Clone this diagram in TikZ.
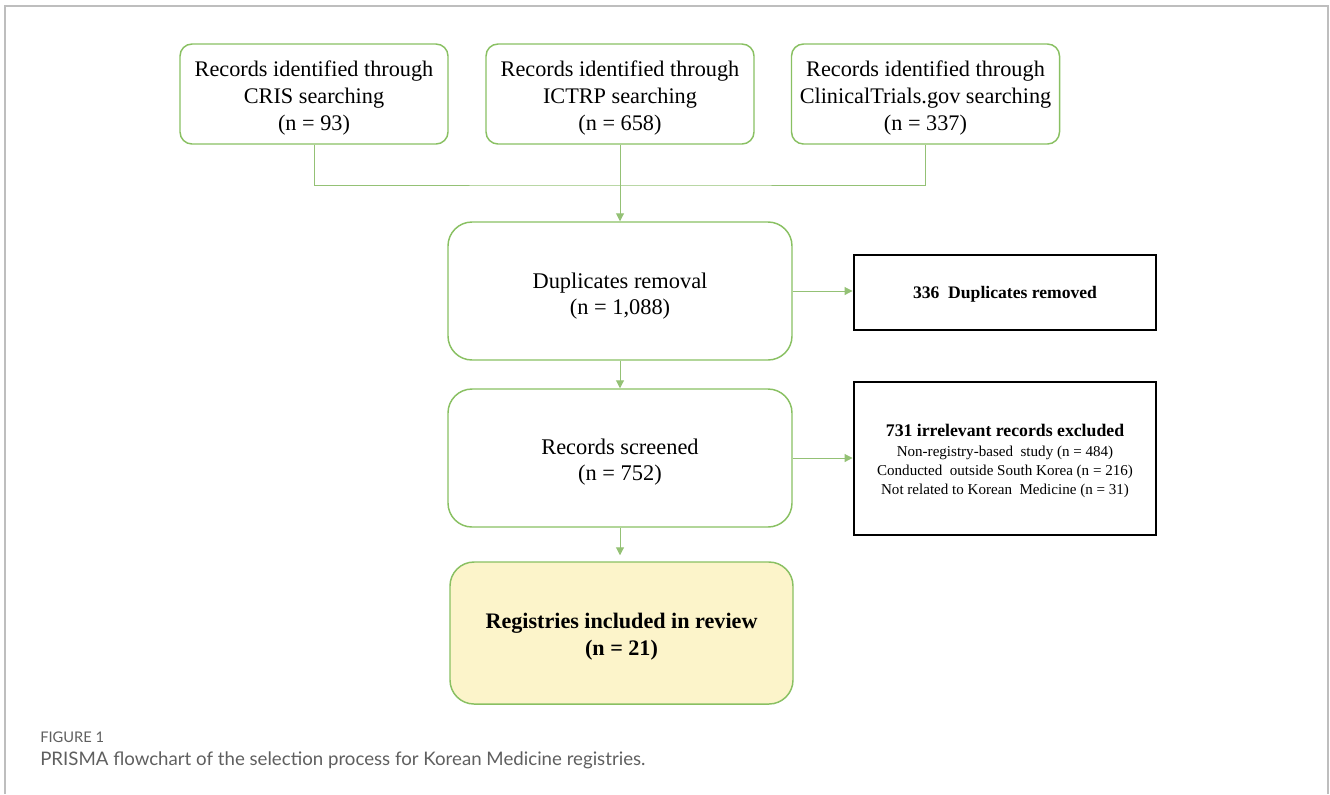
\documentclass[tikz,border=0pt]{standalone}
\usepackage{fontspec}
\setmainfont{Liberation Serif}
\newfontfamily\capfont{Lato}
\usetikzlibrary{arrows.meta}
\definecolor{boxgreen}{RGB}{137,192,98}
\definecolor{arrgreen}{RGB}{112,173,71}
\definecolor{incfill}{RGB}{252,244,202}
\definecolor{framegray}{RGB}{190,190,190}
\definecolor{capgray}{RGB}{95,95,95}
\tikzset{
  srcbox/.style={draw=boxgreen, line width=1.1pt, rounded corners=9pt,
    minimum width=201pt, minimum height=75pt, inner sep=0pt},
  midbox/.style={draw=boxgreen, line width=1.1pt, rounded corners=18pt,
    minimum width=258pt, minimum height=103.5pt, inner sep=0pt},
  incbox/.style={midbox, fill=incfill, minimum width=257.25pt, minimum height=106.5pt},
  exbox/.style={draw=black, line width=2.2pt, minimum width=226.5pt, inner sep=0pt},
  srctxt/.style={align=center, inner sep=0pt, font=\fontsize{16.7}{19.9}\selectfont},
  midtxt/.style={align=center, inner sep=0pt, font=\fontsize{16.8}{19.6}\selectfont},
  inctxt/.style={align=center, inner sep=0pt, font=\fontsize{16.6}{20.2}\selectfont\bfseries},
  extxt/.style={align=center, inner sep=0pt, font=\fontsize{11.3}{14.3}\selectfont},
  conn/.style={draw=arrgreen!75, line width=0.75pt},
  arr/.style={conn, -{Triangle[length=6pt,width=6pt]}},
}
\begin{document}
\begin{tikzpicture}[x=0.75pt,y=-0.75pt]
\useasboundingbox (0,0) rectangle (1330,794);
% outer frame
\draw[framegray, line width=0.9pt] (5,794) -- (5,6) -- (1328,6) -- (1328,794);
% source boxes
\node[srcbox] (cris) at (314,94) {};
\node[srctxt] (crist) at (314,98) {Records identified through\\CRIS searching\\(n = 93)};
\node[srcbox] (ictrp) at (620,94) {};
\node[srctxt] (ictrpt) at (620,98) {Records identified through\\ICTRP searching\\(n = 658)};
\node[srcbox] (ct) at (925.5,94) {};
\node[srctxt] (ctt) at (925.5,98) {Records identified through\\ClinicalTrials.gov searching\\(n = 337)};
% main flow
\node[midbox] (dup) at (620,291) {};
\node[midtxt] (dupt) at (620,296) {Duplicates removal\\(n = 1,088)};
\node[midbox] (scr) at (620,458) {};
\node[midtxt] (scrt) at (620,462) {Records screened\\(n = 752)};
\node[incbox] (inc) at (621.5,633) {};
\node[inctxt] (inct) at (621.5,637) {Registries included in review\\(n = 21)};
% exclusion boxes
\node[exbox, minimum height=56.25pt] (d336) at (1005,292.5) {};
\node[extxt, font=\fontsize{13.2}{15}\selectfont\bfseries] (d336t) at (1005,294.5) {336\ \ Duplicates removed};
\node[exbox, minimum height=114.75pt] (x731) at (1005,458.5) {};
\node[extxt] (x731t) at (1005,461)
  {{\fontsize{13.3}{14.3}\selectfont\bfseries 731 irrelevant records excluded}\\
   Non-registry-based\ \ study (n = 484)\\
   Conducted\ \ outside South Korea (n = 216)\\
   Not related to Korean\ \ Medicine (n = 31)};
% connectors
\coordinate (j) at (621,185);
\draw[conn] (cris.south) |- (j) -| (ct.south);
\draw[arr] (ictrp.south) -- (dup.north);
\draw[arr] (dup.east) -- (dup.east -| d336.west);
\draw[arr] (dup.south) -- (scr.north);
\draw[arr] (scr.east) -- (scr.east -| x731.west);
\draw[arr] (scr.south) -- ([yshift=4.5pt]scr.south |- inc.north);
% caption
\node[anchor=west, inner sep=0pt, text=capgray, font=\capfont\fontsize{11}{12}\selectfont] (fig) at (40,737) {FIGURE 1};
\node[anchor=west, inner sep=0pt, text=capgray, font=\capfont\fontsize{14}{16}\selectfont] (cap) at (40,760) {PRISMA flowchart of the selection process for Korean Medicine registries.};
\end{tikzpicture}
\end{document}
